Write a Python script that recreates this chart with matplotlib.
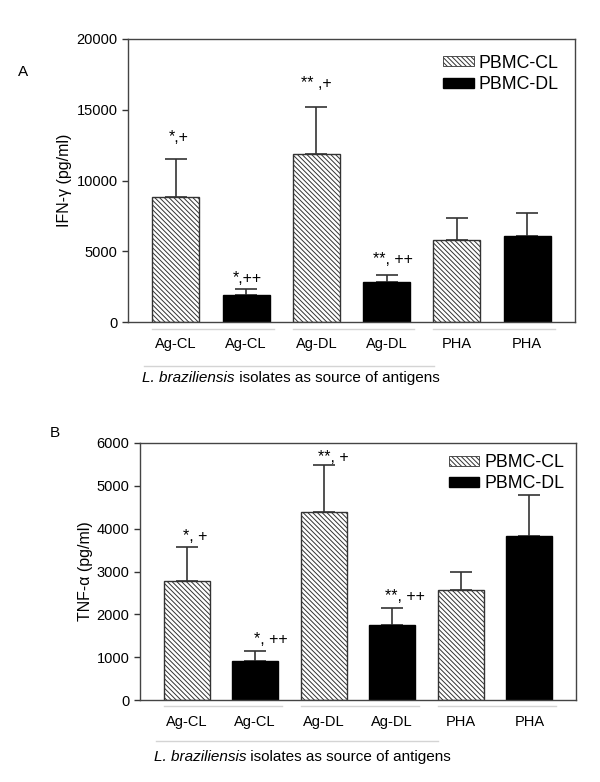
import numpy as np
import matplotlib
matplotlib.use('Agg')
import matplotlib.pyplot as plt
from matplotlib.patches import Patch
from matplotlib.lines import Line2D
import matplotlib.transforms as mtransforms

plt.rcParams['font.family'] = ['Liberation Sans', 'DejaVu Sans']
plt.rcParams['hatch.linewidth'] = 0.7
plt.rcParams['hatch.color'] = '#555555'

# data
categories = ['Ag-CL', 'Ag-CL', 'Ag-DL', 'Ag-DL', 'PHA', 'PHA']
cells = ['PBMC-CL', 'PBMC-DL', 'PBMC-CL', 'PBMC-DL', 'PBMC-CL', 'PBMC-DL']

ifn_mean = [8800, 1880, 11880, 2800, 5780, 6080]
ifn_err = [2750, 430, 3300, 500, 1550, 1600]
ifn_marks = ['*,+', '*,++', '** ,+', '**, ++', '', '']

tnf_mean = [2770, 920, 4390, 1740, 2560, 3840]
tnf_err = [800, 225, 1100, 405, 440, 935]
tnf_marks = ['*, +', '*, ++', '**, +', '**, ++', '', '']

# label offsets (points) from the error bar cap
ifn_offsets = [(1.8, 15), (1, 8), (0, 17), (4.3, 11.5)]
tnf_offsets = [(6.5, 7.6), (11, 8.6), (7, 5), (9.4, 8.6)]

HATCH = '\\\\\\\\\\\\\\'

W, H = 600, 782
fig = plt.figure(figsize=(W / 100, H / 100), dpi=100)


def px_rect(x0, y0, x1, y1):
    return [x0 / W, 1 - y1 / H, (x1 - x0) / W, (y1 - y0) / H]


def draw_panel(ax, means, errs, marks, offsets, ymax, ystep, ylabel, leg_anchor,
               line_y, label_y):
    x = np.arange(len(means))
    width = 0.67
    for i in range(len(means)):
        if cells[i] == 'PBMC-CL':
            ax.bar(x[i], means[i], width, color='white', edgecolor='#333333',
                   hatch=HATCH, linewidth=1.0, zorder=2)
        else:
            ax.bar(x[i], means[i], width, color='black', edgecolor='black',
                   linewidth=1.0, zorder=2)
        ax.errorbar(x[i], means[i], yerr=[[0], [errs[i]]], fmt='none',
                    ecolor='#333333', elinewidth=1.2, capsize=8, capthick=1.2,
                    zorder=1)
    for i, m in enumerate(marks):
        if m:
            dx, dy = offsets[i]
            ax.annotate(m, xy=(x[i], means[i] + errs[i]), xytext=(dx, dy),
                        textcoords='offset points', ha='center', va='center',
                        fontsize=11.5)

    ax.set_xlim(-0.68, len(means) - 1 + 0.68)
    ax.set_ylim(0, ymax)
    ax.set_yticks(np.arange(0, ymax + 1, ystep))
    ax.set_xticks(x)
    ax.set_xticklabels(categories, fontsize=10.5)
    ax.tick_params(axis='x', length=0, pad=11)
    ax.tick_params(axis='y', length=4, width=1, labelsize=10.5, color='#333333')
    for s in ax.spines.values():
        s.set_color('#444444')
        s.set_linewidth(1.0)
    ax.set_ylabel(ylabel, fontsize=11.5, labelpad=3)

    # light group underlines below the axis
    trans = mtransforms.blended_transform_factory(ax.transData, ax.transAxes)
    for g in range(0, len(means), 2):
        ax.add_line(Line2D([g - width / 2, g + 1 + width / 2 + 0.06], [-0.025, -0.025],
                           transform=trans, color='#d4d4d4', lw=1.0, clip_on=False))
    ax.add_line(Line2D([-0.45, 3.67], [line_y, line_y], transform=trans,
                       color='#d4d4d4', lw=1.0, clip_on=False))
    t1 = ax.text(-0.48, label_y, 'L. braziliensis', transform=trans, fontsize=11,
                 style='italic', ha='left', va='center')
    ax.annotate(' isolates as source of antigens', xy=(1, 0.5), xycoords=t1,
                ha='left', va='center', fontsize=11)

    handles = [Patch(facecolor='white', edgecolor='#333333', hatch=HATCH, lw=0.6),
               Patch(facecolor='black', edgecolor='black')]
    ax.legend(handles, ['PBMC-CL', 'PBMC-DL'], loc='upper right',
              bbox_to_anchor=leg_anchor, frameon=False, fontsize=12.8,
              handlelength=1.7, handleheight=0.5, handletextpad=0.3,
              labelspacing=0.25, borderaxespad=0)


axA = fig.add_axes(px_rect(128, 39, 575, 322))
draw_panel(axA, ifn_mean, ifn_err, ifn_marks, ifn_offsets, 20000, 5000,
           'IFN-γ (pg/ml)', (0.98, 0.97), -0.155, -0.198)
fig.text(23 / W, 1 - 72 / H, 'A', fontsize=11, ha='center', va='center')

axB = fig.add_axes(px_rect(140, 443, 576, 700))
draw_panel(axB, tnf_mean, tnf_err, tnf_marks, tnf_offsets, 6000, 1000,
           'TNF-α (pg/ml)', (0.99, 0.985), -0.16, -0.222)
fig.text(55 / W, 1 - 433 / H, 'B', fontsize=11, ha='center', va='center')

fig.savefig('out.png', dpi=100)
